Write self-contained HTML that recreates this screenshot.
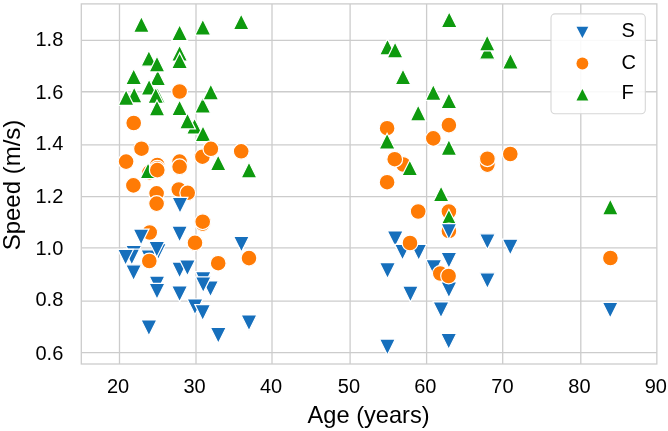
<!DOCTYPE html>
<html><head><meta charset="utf-8"><style>
html,body{margin:0;padding:0;background:#fff;}
body{width:668px;height:431px;overflow:hidden;}
svg{display:block;filter:blur(0.3px);}
text{font-family:"Liberation Sans",sans-serif;fill:#000;}
</style></head><body>
<svg width="668" height="431" viewBox="0 0 668 431">
<rect x="0" y="0" width="668" height="431" fill="#fff"/>

<g stroke="#cccccc" stroke-width="1.3"><line x1="119.50" y1="3.9" x2="119.50" y2="364.0"/><line x1="196.00" y1="3.9" x2="196.00" y2="364.0"/><line x1="272.00" y1="3.9" x2="272.00" y2="364.0"/><line x1="350.10" y1="3.9" x2="350.10" y2="364.0"/><line x1="426.60" y1="3.9" x2="426.60" y2="364.0"/><line x1="502.70" y1="3.9" x2="502.70" y2="364.0"/><line x1="580.80" y1="3.9" x2="580.80" y2="364.0"/><line x1="81.3" y1="352.70" x2="656.85" y2="352.70"/><line x1="81.3" y1="301.04" x2="656.85" y2="301.04"/><line x1="81.3" y1="247.88" x2="656.85" y2="247.88"/><line x1="81.3" y1="196.58" x2="656.85" y2="196.58"/><line x1="81.3" y1="144.88" x2="656.85" y2="144.88"/><line x1="81.3" y1="91.74" x2="656.85" y2="91.74"/><line x1="81.3" y1="40.30" x2="656.85" y2="40.30"/></g>
<rect x="81.3" y="3.9" width="575.55" height="360.10" fill="none" stroke="#cccccc" stroke-width="1.3"/>
<g stroke="#fff" stroke-width="1.2"><path d="M133.70 68.70L125.80 84.50L141.60 84.50Z" fill="rgb(14,154,14)"/><path d="M134.20 87.10L126.30 102.90L142.10 102.90Z" fill="rgb(14,154,14)"/><path d="M126.10 89.60L118.20 105.40L134.00 105.40Z" fill="rgb(14,154,14)"/><circle cx="126.10" cy="161.60" r="7.9" fill="rgb(255,123,5)"/><circle cx="133.70" cy="123.00" r="7.9" fill="rgb(255,123,5)"/><circle cx="133.40" cy="185.40" r="7.9" fill="rgb(255,123,5)"/><path d="M133.70 261.20L125.80 245.40L141.60 245.40Z" fill="rgb(22,111,188)"/><path d="M131.80 264.90L123.90 249.10L139.70 249.10Z" fill="rgb(22,111,188)"/><path d="M133.60 280.60L125.70 264.80L141.50 264.80Z" fill="rgb(22,111,188)"/><path d="M125.60 265.20L117.70 249.40L133.50 249.40Z" fill="rgb(22,111,188)"/><path d="M141.40 16.60L133.50 32.40L149.30 32.40Z" fill="rgb(14,154,14)"/><circle cx="141.50" cy="148.70" r="7.9" fill="rgb(255,123,5)"/><path d="M157.70 69.80L149.80 85.60L165.60 85.60Z" fill="rgb(14,154,14)"/><path d="M148.90 50.40L141.00 66.20L156.80 66.20Z" fill="rgb(14,154,14)"/><path d="M149.10 79.20L141.20 95.00L157.00 95.00Z" fill="rgb(14,154,14)"/><circle cx="149.50" cy="172.30" r="7.9" fill="rgb(255,123,5)"/><path d="M148.10 162.70L140.20 178.50L156.00 178.50Z" fill="rgb(14,154,14)"/><circle cx="149.70" cy="232.50" r="7.9" fill="rgb(255,123,5)"/><path d="M141.10 244.90L133.20 229.10L149.00 229.10Z" fill="rgb(22,111,188)"/><path d="M148.80 265.60L140.90 249.80L156.70 249.80Z" fill="rgb(22,111,188)"/><path d="M148.90 335.80L141.00 320.00L156.80 320.00Z" fill="rgb(22,111,188)"/><path d="M157.00 56.10L149.10 71.90L164.90 71.90Z" fill="rgb(14,154,14)"/><path d="M157.50 87.60L149.60 103.40L165.40 103.40Z" fill="rgb(14,154,14)"/><path d="M155.80 87.60L147.90 103.40L163.70 103.40Z" fill="rgb(14,154,14)"/><path d="M157.00 100.10L149.10 115.90L164.90 115.90Z" fill="rgb(14,154,14)"/><circle cx="157.30" cy="165.00" r="7.9" fill="rgb(255,123,5)"/><circle cx="157.30" cy="168.20" r="7.9" fill="rgb(255,123,5)"/><circle cx="157.30" cy="170.10" r="7.9" fill="rgb(255,123,5)"/><circle cx="156.60" cy="193.30" r="7.9" fill="rgb(255,123,5)"/><circle cx="156.60" cy="203.60" r="7.9" fill="rgb(255,123,5)"/><path d="M158.30 259.50L150.40 243.70L166.20 243.70Z" fill="rgb(22,111,188)"/><path d="M156.80 257.20L148.90 241.40L164.70 241.40Z" fill="rgb(22,111,188)"/><circle cx="149.30" cy="261.00" r="7.9" fill="rgb(255,123,5)"/><path d="M157.00 291.90L149.10 276.10L164.90 276.10Z" fill="rgb(22,111,188)"/><path d="M157.00 299.20L149.10 283.40L164.90 283.40Z" fill="rgb(22,111,188)"/><path d="M179.60 24.70L171.70 40.50L187.50 40.50Z" fill="rgb(14,154,14)"/><path d="M179.60 45.30L171.70 61.10L187.50 61.10Z" fill="rgb(14,154,14)"/><path d="M179.60 52.70L171.70 68.50L187.50 68.50Z" fill="rgb(14,154,14)"/><path d="M179.60 99.90L171.70 115.70L187.50 115.70Z" fill="rgb(14,154,14)"/><circle cx="179.60" cy="91.50" r="7.9" fill="rgb(255,123,5)"/><circle cx="179.60" cy="161.60" r="7.9" fill="rgb(255,123,5)"/><circle cx="179.60" cy="166.80" r="7.9" fill="rgb(255,123,5)"/><circle cx="178.80" cy="189.50" r="7.9" fill="rgb(255,123,5)"/><path d="M179.60 241.90L171.70 226.10L187.50 226.10Z" fill="rgb(22,111,188)"/><path d="M179.60 277.90L171.70 262.10L187.50 262.10Z" fill="rgb(22,111,188)"/><path d="M179.60 301.80L171.70 286.00L187.50 286.00Z" fill="rgb(22,111,188)"/><path d="M194.60 118.30L186.70 134.10L202.50 134.10Z" fill="rgb(14,154,14)"/><path d="M187.50 113.10L179.60 128.90L195.40 128.90Z" fill="rgb(14,154,14)"/><circle cx="187.70" cy="192.80" r="7.9" fill="rgb(255,123,5)"/><path d="M180.00 213.20L172.10 197.40L187.90 197.40Z" fill="rgb(22,111,188)"/><path d="M187.40 275.80L179.50 260.00L195.30 260.00Z" fill="rgb(22,111,188)"/><circle cx="195.00" cy="242.80" r="7.9" fill="rgb(255,123,5)"/><path d="M195.00 314.70L187.10 298.90L202.90 298.90Z" fill="rgb(22,111,188)"/><path d="M202.80 19.30L194.90 35.10L210.70 35.10Z" fill="rgb(14,154,14)"/><path d="M202.70 97.30L194.80 113.10L210.60 113.10Z" fill="rgb(14,154,14)"/><path d="M203.00 125.70L195.10 141.50L210.90 141.50Z" fill="rgb(14,154,14)"/><circle cx="202.40" cy="156.70" r="7.9" fill="rgb(255,123,5)"/><circle cx="202.70" cy="223.60" r="7.9" fill="rgb(255,123,5)"/><circle cx="202.70" cy="221.70" r="7.9" fill="rgb(255,123,5)"/><path d="M210.50 296.70L202.60 280.90L218.40 280.90Z" fill="rgb(22,111,188)"/><path d="M203.20 287.40L195.30 271.60L211.10 271.60Z" fill="rgb(22,111,188)"/><path d="M203.20 292.60L195.30 276.80L211.10 276.80Z" fill="rgb(22,111,188)"/><path d="M202.70 320.40L194.80 304.60L210.60 304.60Z" fill="rgb(22,111,188)"/><path d="M210.80 84.10L202.90 99.90L218.70 99.90Z" fill="rgb(14,154,14)"/><circle cx="210.90" cy="148.80" r="7.9" fill="rgb(255,123,5)"/><path d="M218.20 154.90L210.30 170.70L226.10 170.70Z" fill="rgb(14,154,14)"/><circle cx="218.20" cy="263.20" r="7.9" fill="rgb(255,123,5)"/><path d="M218.30 343.30L210.40 327.50L226.20 327.50Z" fill="rgb(22,111,188)"/><path d="M241.20 13.90L233.30 29.70L249.10 29.70Z" fill="rgb(14,154,14)"/><circle cx="241.20" cy="151.30" r="7.9" fill="rgb(255,123,5)"/><path d="M241.40 252.10L233.50 236.30L249.30 236.30Z" fill="rgb(22,111,188)"/><path d="M249.00 162.10L241.10 177.90L256.90 177.90Z" fill="rgb(14,154,14)"/><circle cx="249.00" cy="258.10" r="7.9" fill="rgb(255,123,5)"/><path d="M249.00 330.70L241.10 314.90L256.90 314.90Z" fill="rgb(22,111,188)"/><path d="M387.50 39.10L379.60 54.90L395.40 54.90Z" fill="rgb(14,154,14)"/><circle cx="387.10" cy="128.20" r="7.9" fill="rgb(255,123,5)"/><path d="M387.10 133.30L379.20 149.10L395.00 149.10Z" fill="rgb(14,154,14)"/><circle cx="387.10" cy="182.20" r="7.9" fill="rgb(255,123,5)"/><path d="M387.50 278.50L379.60 262.70L395.40 262.70Z" fill="rgb(22,111,188)"/><path d="M387.40 354.90L379.50 339.10L395.30 339.10Z" fill="rgb(22,111,188)"/><path d="M395.10 42.10L387.20 57.90L403.00 57.90Z" fill="rgb(14,154,14)"/><path d="M395.20 246.80L387.30 231.00L403.10 231.00Z" fill="rgb(22,111,188)"/><path d="M403.00 68.90L395.10 84.70L410.90 84.70Z" fill="rgb(14,154,14)"/><circle cx="403.30" cy="164.50" r="7.9" fill="rgb(255,123,5)"/><circle cx="394.70" cy="159.20" r="7.9" fill="rgb(255,123,5)"/><path d="M409.80 159.90L401.90 175.70L417.70 175.70Z" fill="rgb(14,154,14)"/><path d="M402.50 260.10L394.60 244.30L410.40 244.30Z" fill="rgb(22,111,188)"/><path d="M418.70 260.30L410.80 244.50L426.60 244.50Z" fill="rgb(22,111,188)"/><circle cx="410.00" cy="243.00" r="7.9" fill="rgb(255,123,5)"/><path d="M410.40 301.90L402.50 286.10L418.30 286.10Z" fill="rgb(22,111,188)"/><path d="M418.20 105.10L410.30 120.90L426.10 120.90Z" fill="rgb(14,154,14)"/><circle cx="418.20" cy="211.50" r="7.9" fill="rgb(255,123,5)"/><path d="M433.30 84.60L425.40 100.40L441.20 100.40Z" fill="rgb(14,154,14)"/><circle cx="433.30" cy="138.40" r="7.9" fill="rgb(255,123,5)"/><path d="M433.80 275.50L425.90 259.70L441.70 259.70Z" fill="rgb(22,111,188)"/><path d="M441.10 185.90L433.20 201.70L449.00 201.70Z" fill="rgb(14,154,14)"/><circle cx="440.30" cy="273.50" r="7.9" fill="rgb(255,123,5)"/><path d="M441.00 317.70L433.10 301.90L448.90 301.90Z" fill="rgb(22,111,188)"/><path d="M449.20 11.70L441.30 27.50L457.10 27.50Z" fill="rgb(14,154,14)"/><path d="M448.90 92.70L441.00 108.50L456.80 108.50Z" fill="rgb(14,154,14)"/><circle cx="448.90" cy="125.10" r="7.9" fill="rgb(255,123,5)"/><path d="M448.90 139.60L441.00 155.40L456.80 155.40Z" fill="rgb(14,154,14)"/><circle cx="448.90" cy="211.50" r="7.9" fill="rgb(255,123,5)"/><path d="M448.90 209.30L441.00 225.10L456.80 225.10Z" fill="rgb(14,154,14)"/><circle cx="448.90" cy="231.00" r="7.9" fill="rgb(255,123,5)"/><path d="M448.90 239.40L441.00 223.60L456.80 223.60Z" fill="rgb(22,111,188)"/><path d="M448.90 268.20L441.00 252.40L456.80 252.40Z" fill="rgb(22,111,188)"/><path d="M448.90 297.80L441.00 282.00L456.80 282.00Z" fill="rgb(22,111,188)"/><circle cx="448.60" cy="276.00" r="7.9" fill="rgb(255,123,5)"/><path d="M448.70 349.20L440.80 333.40L456.60 333.40Z" fill="rgb(22,111,188)"/><path d="M487.20 43.40L479.30 59.20L495.10 59.20Z" fill="rgb(14,154,14)"/><path d="M487.20 35.10L479.30 50.90L495.10 50.90Z" fill="rgb(14,154,14)"/><circle cx="487.40" cy="164.60" r="7.9" fill="rgb(255,123,5)"/><circle cx="487.40" cy="158.70" r="7.9" fill="rgb(255,123,5)"/><path d="M487.40 249.60L479.50 233.80L495.30 233.80Z" fill="rgb(22,111,188)"/><path d="M487.40 288.60L479.50 272.80L495.30 272.80Z" fill="rgb(22,111,188)"/><path d="M510.40 53.30L502.50 69.10L518.30 69.10Z" fill="rgb(14,154,14)"/><circle cx="510.30" cy="154.00" r="7.9" fill="rgb(255,123,5)"/><path d="M510.30 255.00L502.40 239.20L518.20 239.20Z" fill="rgb(22,111,188)"/><path d="M610.30 199.10L602.40 214.90L618.20 214.90Z" fill="rgb(14,154,14)"/><circle cx="610.40" cy="258.00" r="7.9" fill="rgb(255,123,5)"/><path d="M610.20 318.10L602.30 302.30L618.10 302.30Z" fill="rgb(22,111,188)"/></g>
<text x="118.09" y="392.5" text-anchor="middle" font-size="20">20</text><text x="194.55" y="392.5" text-anchor="middle" font-size="20">30</text><text x="271.00" y="392.5" text-anchor="middle" font-size="20">40</text><text x="348.94" y="392.5" text-anchor="middle" font-size="20">50</text><text x="425.26" y="392.5" text-anchor="middle" font-size="20">60</text><text x="502.43" y="392.5" text-anchor="middle" font-size="20">70</text><text x="579.45" y="392.5" text-anchor="middle" font-size="20">80</text><text x="655.84" y="392.5" text-anchor="middle" font-size="20">90</text><text x="63.3" y="46" text-anchor="end" font-size="20">1.8</text><text x="63.3" y="99" text-anchor="end" font-size="20">1.6</text><text x="63.3" y="150" text-anchor="end" font-size="20">1.4</text><text x="63.3" y="203" text-anchor="end" font-size="20">1.2</text><text x="63.3" y="255" text-anchor="end" font-size="20">1.0</text><text x="63.3" y="306" text-anchor="end" font-size="20">0.8</text><text x="63.3" y="360" text-anchor="end" font-size="20">0.6</text>
<text x="368.6" y="422.7" text-anchor="middle" font-size="23.6">Age (years)</text>
<text transform="translate(20.0 185.0) rotate(-90)" text-anchor="middle" font-size="24">Speed (m/s)</text>
<rect x="551" y="13.9" width="94.3" height="99.8" rx="4" ry="4" fill="#fff" fill-opacity="0.88" stroke="#d6d6d6" stroke-width="1.1"/>
<path d="M582.4 38L576.5 26.7L588.3 26.7Z" fill="rgb(22,111,188)"/>
<circle cx="582.4" cy="63.5" r="5.9" fill="rgb(255,123,5)"/>
<path d="M582.4 89L576.5 100.6L588.3 100.6Z" fill="rgb(14,154,14)"/>
<text x="621.4" y="37.0" font-size="20">S</text>
<text x="621.4" y="68.8" font-size="20">C</text>
<text x="621.4" y="99.0" font-size="20">F</text>
</svg></body></html>
